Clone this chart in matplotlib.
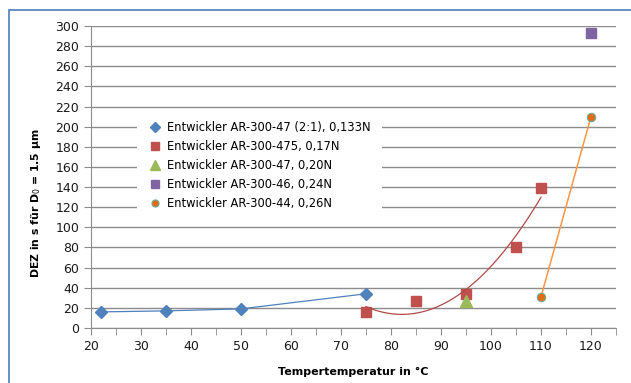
import numpy as np
import matplotlib.pyplot as plt
from matplotlib.patches import Rectangle
from matplotlib.ticker import MultipleLocator

plt.rcParams['font.family'] = ['DejaVu Sans']

# data
t_133 = [22, 35, 50, 75]
dez_133 = [16, 17, 19, 34]
t_17 = [75, 85, 95, 105, 110]
dez_17 = [16, 27, 34, 80, 139]
t_20 = [95]
dez_20 = [27]
t_24 = [120]
dez_24 = [293]
t_26 = [110, 120]
dez_26 = [31, 210]

labels = ['Entwickler AR-300-47 (2:1), 0,133N',
          'Entwickler AR-300-475, 0,17N',
          'Entwickler AR-300-47, 0,20N',
          'Entwickler AR-300-46, 0,24N',
          'Entwickler AR-300-44, 0,26N']

fig = plt.figure(figsize=(6.31, 3.83), dpi=100)
ax = fig.add_axes([91/631, 1 - 328/383, 525/631, 302/383])

# outer chart frame
fig.patches.append(Rectangle((9/631, -0.05), 1.0, 1 - 10/383 + 0.05,
                             transform=fig.transFigure, fill=False,
                             edgecolor='#4a7ebb', lw=1.2))

ax.plot(t_133, dez_133, color='#4f81bd', lw=0.9, marker='D', ms=6,
        label=labels[0])
ax.plot(t_17, dez_17, ls='none', color='#c0504d', marker='s', ms=7,
        label=labels[1])
# polynomial trend line for the red series
coef = np.polyfit(t_17, dez_17, 2)
tt = np.linspace(min(t_17), max(t_17), 100)
ax.plot(tt, np.polyval(coef, tt), color='#b04a48', lw=0.9)
ax.plot(t_20, dez_20, ls='none', color='#9bbb59', marker='^', ms=8,
        label=labels[2])
ax.plot(t_24, dez_24, ls='none', color='#8064a2', marker='s', ms=7,
        label=labels[3])
ax.plot(t_26, dez_26, color='#f79646', lw=1.1, marker='o', ms=6,
        mfc='#e36c0a', mec='#6fa8a0', mew=0.8, label=labels[4])

ax.set_xlim(20, 125)
ax.set_ylim(0, 300)
ax.xaxis.set_minor_locator(MultipleLocator(5))
ax.yaxis.set_major_locator(MultipleLocator(20))
ax.set_xticks(np.arange(20, 121, 10))
ax.grid(axis='y', color='#8c8c8c', lw=1)
ax.set_axisbelow(True)
for s in ['top', 'right']:
    ax.spines[s].set_visible(False)
for s in ['left', 'bottom']:
    ax.spines[s].set_color('#8c8c8c')
ax.tick_params(which='both', direction='out', color='#8c8c8c', labelsize=9,
               labelcolor='#1a1a1a', length=5)

ax.set_xlabel('Tempertemperatur in °C', fontsize=8, fontweight='bold',
              labelpad=10)
ax.set_ylabel('DEZ in s für D$_0$ = 1.5 µm', fontsize=7.8, fontweight='bold')
ax.yaxis.set_label_coords(-0.092, 0.415)

leg = ax.legend(loc='upper left', bbox_to_anchor=(0.0876, 0.725),
                borderaxespad=0, frameon=True, fontsize=8.3, markerscale=0.85,
                handlelength=1.2, handletextpad=0.4, labelspacing=0.54,
                borderpad=1.0, fancybox=False)
leg.get_frame().set_edgecolor('none')
leg.get_frame().set_alpha(1)
for h in leg.legend_handles:
    h.set_linestyle('none')

fig.savefig('out.png', dpi=100)
